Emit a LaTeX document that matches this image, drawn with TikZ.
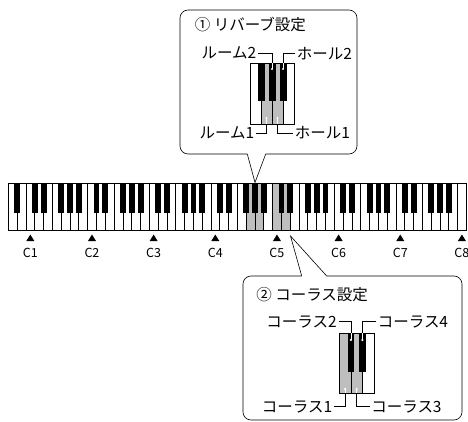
\documentclass[tikz,border=0pt]{standalone}
\usepackage{fontspec}
\setmainfont{Noto Sans CJK JP}
\usepackage{tikz}
\usetikzlibrary{positioning}
\definecolor{keygray}{RGB}{190,190,190}

\begin{document}
\begin{tikzpicture}[x=1pt, y=-1pt, line width=0.6pt,
  wkey/.style    ={draw, fill=white},
  hkey/.style    ={draw, fill=keygray},
  bkey/.style    ={draw, fill=black},
  jlabel/.style  ={inner sep=1.5pt, font=\fontsize{15.5}{16}\selectfont},
  octlabel/.style={inner sep=0pt, font=\fontsize{12.5}{13}\selectfont},
  callout/.style ={draw, rounded corners=8pt},
  inlead/.style  ={draw=white, line width=0.8pt},
  pin/.style     ={fill=white}]

\useasboundingbox (0,0) rectangle (468,422);

% main keyboard
\def\kx{8.3}
\def\kw{8.808}
\foreach \i in {0,...,51}
  \path [wkey] ({\kx+\i*\kw},183.3) rectangle ++(\kw,47.2);
\foreach \i in {27,28,30,31}
  \path [hkey] ({\kx+\i*\kw},183.3) rectangle ++(\kw,47.2);
\foreach \o in {0,...,7}
  \foreach \b in {0,2,3,5,6} {
    \pgfmathtruncatemacro{\n}{7*\o+\b}
    \ifnum\n<51
      \path [bkey] ({\kx+(\n+1)*\kw-2.4},183.3) rectangle ++(4.8,28.5);
    \fi
  }

% octave marks
\foreach \c in {1,...,8} {
  \pgfmathsetmacro{\cx}{\kx+(2+7*(\c-1)+0.5)*\kw}
  \fill ({\cx-4},241) -- ({\cx+4},241) -- (\cx,234.5) -- cycle;
  \node [octlabel] (oct\c) at (\cx,252.5) {C\c};
}

% callout 1
\coordinate (tip1) at (255,182.5);
\draw [callout] (247.3,154) -- (180,154) -- (180,10) -- (357,10) -- (357,154) -- (265.7,154);
\draw (247.3,154) -- (tip1) -- (265.7,154);

\node [jlabel, anchor=west] (reverb) at (193,24.3) {① リバーブ設定};

\foreach \i/\s in {0/wkey,1/hkey,2/hkey,3/wkey}
  \path [\s] (250+\i*11,63) rectangle ++(11,61);
\foreach \i in {1,2,3}
  \path [bkey] (250+\i*11-2.8,63) rectangle ++(5.6,37);

\coordinate (room2) at (272,69);
\coordinate (hall2) at (283,69);
\coordinate (room1) at (266.5,118);
\coordinate (hall1) at (277.5,118);

\node [jlabel, anchor=east] (lroom2) at (258,53.3) {ルーム2};
\node [jlabel, anchor=west] (lhall2) at (295,53.3) {ホール2};
\node [jlabel, anchor=east] (lroom1) at (256,133) {ルーム1};
\node [jlabel, anchor=west] (lhall1) at (293,133) {ホール1};

\draw (lroom2.east) -| (room2);
\draw (lhall2.west) -| (hall2);
\draw (lroom1.east) -| (room1);
\draw (lhall1.west) -| (hall1);
\path [inlead] (room2) -- ++(0,-6);
\path [inlead] (hall2) -- ++(0,-6);
\path [inlead] (room1) -- ++(0,5.6);
\path [inlead] (hall1) -- ++(0,5.6);
\foreach \p in {room2,hall2,room1,hall1}
  \fill [pin] (\p) circle (1.2);

% callout 2
\coordinate (tip2) at (290.5,236);
\draw [callout] (301.7,276) -- (243,276) -- (243,420) -- (462,420) -- (462,276) -- (326.7,276);
\draw (301.7,276) -- (tip2) -- (326.7,276);

\node [jlabel, anchor=west] (chorus) at (254.5,295) {② コーラス設定};

\foreach \i/\s in {0/hkey,1/hkey,2/wkey}
  \path [\s] (339.3+\i*11.57,333) rectangle ++(11.57,60);
\foreach \i in {1,2}
  \path [bkey] (339.3+\i*11.57-2.85,333) rectangle ++(5.7,38);

\coordinate (cho2) at (350.9,340);
\coordinate (cho4) at (362.4,340);
\coordinate (cho1) at (345.1,389);
\coordinate (cho3) at (356.7,389);

\node [jlabel, anchor=east] (lcho2) at (338.5,321.7) {コーラス2};
\node [jlabel, anchor=west] (lcho4) at (376,321.7) {コーラス4};
\node [jlabel, anchor=east] (lcho1) at (334,406.7) {コーラス1};
\node [jlabel, anchor=west] (lcho3) at (369.5,406.7) {コーラス3};

\draw (lcho2.east) -| (cho2);
\draw (lcho4.west) -| (cho4);
\draw (lcho1.east) -| (cho1);
\draw (lcho3.west) -| (cho3);
\path [inlead] (cho2) -- ++(0,-7);
\path [inlead] (cho4) -- ++(0,-7);
\path [inlead] (cho1) -- ++(0,3.6);
\path [inlead] (cho3) -- ++(0,3.6);
\foreach \p in {cho2,cho4,cho1,cho3}
  \fill [pin] (\p) circle (1.2);

\end{tikzpicture}
\end{document}
